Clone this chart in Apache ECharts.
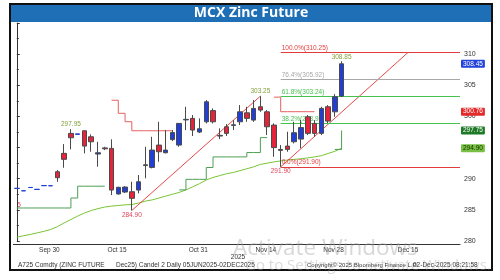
<!DOCTYPE html>
<html><head><meta charset="utf-8">
<script src="https://cdn.jsdelivr.net/npm/echarts@6/dist/echarts.min.js"></script>
<style>html,body{margin:0;padding:0;background:#fff}#c{width:500px;height:280px}</style>
</head><body><div id="c"></div>
<script>
// ---- data ----
const dates = ['Sep 24','Sep 25','Sep 26','Sep 29','Sep 30','Oct 1','Oct 3','Oct 6','Oct 7','Oct 8','Oct 9','Oct 10','Oct 13','Oct 14','Oct 15','Oct 16','Oct 17','Oct 20','Oct 21','Oct 22','Oct 23','Oct 24','Oct 27','Oct 28','Oct 29','Oct 30','Oct 31','Nov 3','Nov 4','Nov 5','Nov 6','Nov 7','Nov 10','Nov 11','Nov 12','Nov 13','Nov 14','Nov 17','Nov 18','Nov 19','Nov 20','Nov 21','Nov 24','Nov 25','Nov 26','Nov 27','Nov 28','Dec 1','Dec 2','Dec 3','Dec 4','Dec 5','Dec 8','Dec 9','Dec 10','Dec 11','Dec 12','Dec 15','Dec 16','Dec 17','Dec 18','Dec 19','Dec 22','Dec 23','Dec 24','Dec 26'];
const tickLabels = ['Sep 30','Oct 15','Oct 31','Nov 14','Nov 28','Dec 15'];

const openP  = [288.44,288.05,288.58,288.28,288.88,288.86,291.12,294.07,297.28,297.12,297.70,296.73,293.96,294.95,294.87,287.55,287.86,287.91,288.18,292.11,291.82,295.40,294.17,296.28,295.40,299.44,299.69,297.49,299.14,300.94,296.85,298.34,298.56,299.14,300.58,299.41,301.55,300.74,298.61,294.70,295.24,295.93,296.36,299.94,298.88,297.28,301.55,300.74,303.26];
const closeP = [288.46,288.07,288.60,288.30,288.90,288.88,290.16,293.11,296.57,297.20,295.24,295.93,294.17,294.80,288.18,288.62,288.66,286.85,289.51,292.23,294.60,294.33,294.60,297.41,298.88,299.53,297.81,298.02,302.35,299.14,296.96,297.28,298.66,300.74,299.69,301.29,301.02,298.34,295.00,294.55,294.71,297.38,298.21,297.28,297.28,301.29,299.25,303.15,308.45];
const lowP   = [288.44,288.05,288.58,288.28,288.88,288.86,289.51,291.76,294.71,297.12,294.07,294.33,291.92,294.60,287.38,287.45,287.70,284.90,287.65,290.06,291.66,292.72,294.07,296.04,295.13,297.81,296.85,297.33,298.88,298.88,296.36,296.85,297.81,298.61,299.14,299.14,300.74,297.01,293.52,291.90,294.33,295.67,294.87,297.01,296.73,297.01,298.93,299.94,303.10];
const highP  = [288.46,288.07,288.60,288.30,288.90,288.88,291.39,295.56,297.95,297.20,297.75,297.12,295.93,295.13,296.32,288.70,288.80,289.51,290.59,295.13,296.73,299.14,297.81,297.81,298.95,301.55,300.22,299.69,302.62,301.29,298.08,298.77,299.41,301.82,301.55,302.62,303.25,301.02,298.88,295.40,297.54,299.14,299.41,300.22,299.41,301.55,301.82,303.58,308.85];

const maLine = [280.6,280.85,281.05,281.3,281.55,281.85,282.3,282.9,283.45,284.0,284.5,284.9,285.2,285.45,285.6,285.7,285.8,285.85,286.1,286.4,286.6,286.9,287.2,287.5,287.8,288.2,288.7,289.2,289.8,290.2,290.5,290.8,291.0,291.3,291.6,291.9,292.3,292.5,292.7,292.85,293.0,293.1,293.2,293.35,293.5,293.7,294.05,294.4,294.9];
const supportStop = [285.3,285.3,285.3,285.3,285.3,285.3,285.3,285.3,286.9,288.8,288.8,288.8,288.8,288.8,null,null,null,null,null,null,null,null,null,null,288.2,289.9,289.9,289.9,291.8,293.5,293.5,293.5,293.5,293.5,294.2,294.2,296.6,296.6,null,null,null,null,null,null,null,null,null,294.7,297.75];
const resistStop  = [null,null,null,null,null,null,null,null,null,null,null,null,null,null,302.6,300.5,299.15,297.7,297.7,297.7,297.7,297.7,297.7,297.7,null,null,null,null,null,null,null,null,null,null,null,null,null,null,303.1,300.76,300.76,300.76,300.76,300.76,300.76,null,null,null,null];

const fibLevels = [310.25, 305.92, 303.24, 298.91, 291.90];
const fibNames  = ['100.0%', '76.4%', '61.8%', '38.2%', '0.0%'];
const fibRange  = [39, 65.5];
const trend1 = [[17, 284.90], [36, 303.25]];
const trend2 = [[39, 291.90], [57.8, 310.25]];
const highMarks = [[8, 297.95], [36, 303.25], [48, 308.85]];
const lowMarks  = [[17, 284.90], [39, 291.90]];
const lastTags  = [308.45, 300.76, 297.75, 294.90];

// ---- styles ----
const BLUE = '#213fd6', RED = '#e3243a';
const fibColors = ['#e23b3b', '#a8a8a8', '#46c24f', '#46c24f', '#e23b3b'];
const tagBg = ['#2443dc', '#e42a2a', '#1e7a26', '#78c043'];
const tagFg = ['#fff', '#fff', '#fff', '#163300'];
const FONT = 'Liberation Sans, Arial, sans-serif';

const candleData = openP.map((o, i) => {
  const v = [o, closeP[i], lowP[i], highP[i]];
  if (highP[i] - lowP[i] < 0.15) return { value: v, itemStyle: { borderColor: BLUE, borderColor0: BLUE } };
  return v;
});

function segments(arr) {
  const out = []; let cur = null;
  arr.forEach((v, i) => {
    if (v === null) { cur = null; return; }
    if (!cur) { cur = []; out.push(cur); }
    cur.push([i, v]);
  });
  return out;
}

const series = [];
series.push({
  type: 'candlestick', xAxisIndex: 0, yAxisIndex: 0, z: 5, barWidth: 5,
  data: candleData,
  itemStyle: { color: BLUE, color0: RED, borderColor: '#4a4a4a', borderColor0: '#4a4a4a', borderWidth: 1 },
  markPoint: {
    symbol: 'circle', symbolSize: 0, silent: true, animation: false,
    data: highMarks.map(m => ({ coord: [dates[m[0]], m[1]], label: { show: true, position: 'top', distance: 1, formatter: m[1].toFixed(2), color: '#84a23c', fontSize: 6.5, fontFamily: FONT } }))
      .concat(lowMarks.map(m => ({ coord: [dates[m[0]], m[1]], label: { show: true, position: 'bottom', distance: 1, formatter: m[1].toFixed(2), color: '#e2445a', fontSize: 6.5, fontFamily: FONT } })))
  },
  markLine: {
    silent: true, animation: false, symbol: ['none', 'none'],
    lineStyle: { color: 'rgba(0,0,0,0)', width: 0 },
    data: lastTags.map((t, k) => ({ yAxis: t, label: { show: true, position: 'end', distance: 1, formatter: t.toFixed(2), backgroundColor: tagBg[k], color: tagFg[k], fontSize: 6.5, fontFamily: FONT, padding: [1, 2, 0, 2], borderRadius: 1 } }))
  }
});
series.push({ type: 'line', xAxisIndex: 1, data: maLine.map((v, i) => [i, v]), symbol: 'none', lineStyle: { color: '#78c434', width: 1 }, z: 2, animation: false });
segments(supportStop).forEach(s => series.push({ type: 'line', xAxisIndex: 1, data: s, step: 'end', symbol: 'none', lineStyle: { color: '#4d9f55', width: 1 }, z: 2, animation: false }));
segments(resistStop).forEach(s => series.push({ type: 'line', xAxisIndex: 1, data: s, step: 'end', symbol: 'none', lineStyle: { color: '#e46060', width: 1 }, z: 2, animation: false }));
series.push({ type: 'line', xAxisIndex: 1, data: trend1, symbol: 'none', lineStyle: { color: '#e84848', width: 1 }, z: 3, animation: false });
series.push({
  type: 'line', xAxisIndex: 1, data: trend2, symbol: 'none', lineStyle: { color: '#e84848', width: 1 }, z: 3, animation: false,
  markLine: {
    silent: true, animation: false, symbol: ['none', 'none'],
    data: fibLevels.map((lv, k) => [
      { coord: [fibRange[0], lv], lineStyle: { color: fibColors[k], width: 1, type: 'solid' },
        label: { show: true, position: 'insideStartTop', distance: 1, formatter: fibNames[k] + '(' + lv.toFixed(2) + ')', color: fibColors[k], fontSize: 6.5, fontFamily: FONT } },
      { coord: [fibRange[1], lv] }
    ])
  }
});

const chart = echarts.init(document.getElementById('c'), null, { renderer: 'canvas' });
chart.setOption({
  animation: false,
  textStyle: { fontFamily: FONT },
  grid: { left: 13.4, right: 40, top: 23, bottom: 39, containLabel: false },
  xAxis: [
    { type: 'category', data: dates, boundaryGap: true, offset: 3,
      axisLine: { lineStyle: { color: '#333', width: 1 } }, axisTick: { show: false },
      axisLabel: { interval: (i, v) => tickLabels.includes(v), fontSize: 6.5, color: '#333', margin: 3, padding: [0, 0, 0, 11] },
      splitLine: { show: false } },
    { type: 'value', min: -0.5, max: 65.5, show: false }
  ],
  yAxis: { type: 'value', position: 'right', min: 280, max: 315, interval: 5, scale: true,
    axisLine: { show: true, lineStyle: { color: '#333' } },
    axisTick: { show: true, length: 3, lineStyle: { color: '#333' } },
    minorTick: { show: true, splitNumber: 2, length: 2, lineStyle: { color: '#333' } },
    axisLabel: { fontSize: 7, color: '#333', margin: 4, showMaxLabel: false },
    splitLine: { show: false } },
  series: series,
  graphic: [
    { type: 'rect', shape: { x: 10, y: 4, width: 482, height: 18 }, style: { fill: '#1f6fb6' }, z: 10 },
    { type: 'text', x: 251, y: 13.5, style: { text: 'MCX Zinc Future', fill: '#fff', font: 'bold 14px "Open Sans", sans-serif', textAlign: 'center', textVerticalAlign: 'middle' }, z: 11 },
    { type: 'rect', shape: { x: 10, y: 4, width: 482, height: 266 }, style: { fill: 'none', stroke: '#111', lineWidth: 2 }, z: 12 },
    { type: 'text', x: 17, y: 205, style: { text: '5', fill: '#e2445a', font: '7px Liberation Sans', textVerticalAlign: 'middle' } },
    { type: 'text', x: 238, y: 257, style: { text: '2025', fill: '#333', font: '6.5px Liberation Sans', textAlign: 'center', textVerticalAlign: 'middle' } },
    { type: 'text', x: 18, y: 265, style: { text: 'A725 Comdty (ZINC FUTURE', fill: '#333', font: '6.5px Liberation Sans', textVerticalAlign: 'middle' } },
    { type: 'text', x: 116, y: 265, style: { text: 'Dec25) Candel 2 Daily 05JUN2025-02DEC2025', fill: '#333', font: '6.5px Liberation Sans', textVerticalAlign: 'middle' } },
    { type: 'text', x: 307, y: 265, style: { text: 'Copyright\u00a9 2025 Bloomberg Finance L.P.', fill: '#333', font: '6px Liberation Sans', textVerticalAlign: 'middle' } },
    { type: 'text', x: 413, y: 265, style: { text: '02-Dec-2025 08:21:58', fill: '#333', font: '6.5px Liberation Sans', textVerticalAlign: 'middle' } },
    { type: 'text', x: 233, y: 249, style: { text: 'Activate Windows', fill: 'rgba(160,160,160,0.42)', font: '22.5px "Open Sans", sans-serif', textVerticalAlign: 'middle' }, z: 20 },
    { type: 'text', x: 245, y: 266, style: { text: 'Go to Settings to activate Windows.', fill: 'rgba(160,160,160,0.38)', font: '15px "Open Sans", sans-serif', textVerticalAlign: 'middle' }, z: 20 }
  ]
});
</script></body></html>
